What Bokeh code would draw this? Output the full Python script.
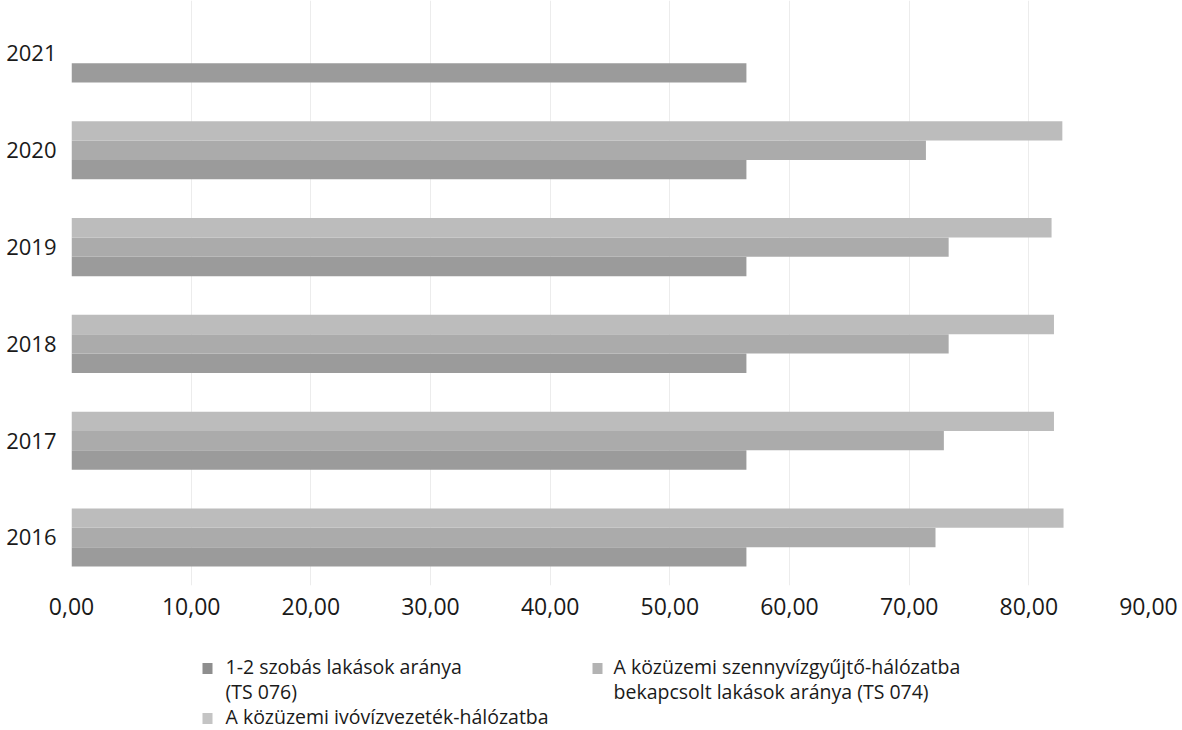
from bokeh.plotting import figure
from bokeh.models import ColumnDataSource, Range1d, FixedTicker, CustomJSTickFormatter
from bokeh.transform import dodge
from bokeh.layouts import column
from bokeh.core.properties import value
from bokeh.embed import file_html
from bokeh.resources import INLINE

# ---- data ----
years = [2016, 2017, 2018, 2019, 2020, 2021]
rooms_1_2 = [56.4, 56.4, 56.4, 56.4, 56.4, 56.4]          # 1-2 szobás lakások aránya (TS 076)
sewer = [72.2, 72.9, 73.3, 73.3, 71.4, None]               # szennyvízgyűjtő-hálózatba bekapcsolt (TS 074)
water = [82.9, 82.1, 82.1, 81.9, 82.8, None]               # ivóvízvezeték-hálózatba bekapcsolt
x_ticks = [0, 10, 20, 30, 40, 50, 60, 70, 80, 90]
series_names = [
    "1-2 szobás lakások aránya\n(TS 076)",
    "A közüzemi szennyvízgyűjtő-hálózatba\nbekapcsolt lakások aránya (TS 074)",
    "A közüzemi ivóvízvezeték-hálózatba",
]

colors = ["#9b9b9b", "#ababab", "#bcbcbc"]
legend_colors = ["#8e8e8e", "#b3b3b3", "#c4c4c4"]
FONT = "Open Sans"

def clean(vals):
    return [float("nan") if v is None else v for v in vals]

src = ColumnDataSource(dict(year=years, r=clean(rooms_1_2), s=clean(sewer), w=clean(water)))

W = 1180
p = figure(width=W, height=630, output_backend="svg", toolbar_location=None,
           x_range=Range1d(0, 90), y_range=Range1d(2015.504, 2021.5475),
           min_border_left=71, min_border_right=32, min_border_top=0, min_border_bottom=45)

bh = 0.2
p.hbar(y=dodge("year", -bh, range=p.y_range), left=0, right="r", height=bh, source=src,
       fill_color=colors[0], line_color=None)
p.hbar(y=dodge("year", 0, range=p.y_range), left=0, right="s", height=bh, source=src,
       fill_color=colors[1], line_color=None)
p.hbar(y=dodge("year", bh, range=p.y_range), left=0, right="w", height=bh, source=src,
       fill_color=colors[2], line_color=None)

p.outline_line_color = None
p.background_fill_color = "white"
p.border_fill_color = "white"

p.xaxis.ticker = FixedTicker(ticks=x_ticks)
p.xaxis.formatter = CustomJSTickFormatter(code="return tick.toFixed(2).replace('.', ',');")
p.yaxis.ticker = FixedTicker(ticks=years)
p.xaxis.axis_line_color = None
p.yaxis.axis_line_color = None
for ax in (p.xaxis, p.yaxis):
    ax.major_tick_line_color = None
    ax.minor_tick_line_color = None
    ax.major_label_text_font = FONT
    ax.major_label_text_color = "#1a1a1a"
p.xaxis.major_label_text_font_size = "23px"
p.yaxis.major_label_text_font_size = "22px"
p.xaxis.major_label_standoff = 6
p.yaxis.major_label_standoff = 9
p.xgrid.ticker = FixedTicker(ticks=x_ticks)
p.xgrid.grid_line_color = "#ececec"
p.ygrid.grid_line_color = None

# ---- legend (separate strip below; x in page pixels) ----
lg = figure(width=W, height=100, output_backend="svg", toolbar_location=None,
            x_range=Range1d(71, 1148), y_range=Range1d(100, 0),
            min_border_left=71, min_border_right=32, min_border_top=0, min_border_bottom=0,
            outline_line_color=None)
lg.axis.visible = False
lg.grid.visible = False

sq_x = [207, 597, 207]
sq_y = [38, 38, 88]
txt_x = [225, 613, 225]
lg.rect(x=sq_x, y=sq_y, width=10, height=11, fill_color=legend_colors, line_color=None)
lg.text(x=txt_x, y=[y - 16 for y in sq_y], text=series_names,
        text_font=value(FONT), text_font_size="19.5px", text_color="#1a1a1a",
        text_baseline="top", text_align="left", text_line_height=0.95)

layout = column(p, lg, spacing=0)
open("out.html", "w").write(file_html(layout, INLINE))
